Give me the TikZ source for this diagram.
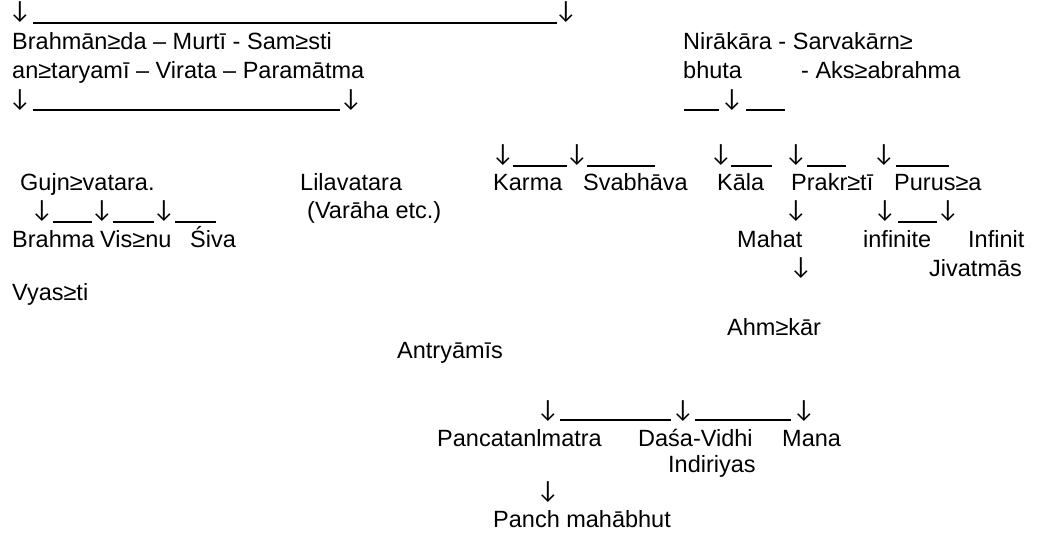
\documentclass[tikz,border=0pt]{standalone}
\usepackage{fontspec}
\setmainfont{Liberation Sans}
\newfontfamily\arrfont{Lato}
\newcommand{\dn}{\makebox[14pt]{\arrfont\fontsize{23.5}{28}\selectfont ↓}}
\begin{document}
\begin{tikzpicture}[x=1pt,y=-1pt,
  txt/.style={anchor=base west, inner sep=0pt, font=\fontsize{23.5}{28}\selectfont},
  arr/.style={anchor=base, inner sep=0pt},
  ul/.style={line width=1.6pt}]
\useasboundingbox[fill=white] (0,0) rectangle (1045,540);
% row 1
\node[arr] (a1) at (20,19) {\dn};
\node[arr] (a2) at (566,19) {\dn};
\draw[ul] ([xshift=6pt,yshift=-4pt]a1.base east) -- ([xshift=-2pt,yshift=-4pt]a2.base west);
% rows 2-3
\node[txt] (t1) at (12,50) {Brahmān≥da – Murtī - Sam≥sti};
\node[txt] (t2) at (12,79) {an≥taryamī – Virata – Paramātma};
\node[txt] (t3) at (683,50) {Nirākāra - Sarvakārn≥};
\node[txt] (t4) at (683,79) {bhuta};
\node[txt] (t5) at (801,79) {- Aks≥abrahma};
% row 4
\node[arr] (a3) at (20,107) {\dn};
\node[arr] (a4) at (351,107) {\dn};
\draw[ul] ([xshift=6pt,yshift=-3pt]a3.base east) -- ([xshift=-4pt,yshift=-3pt]a4.base west);
\node[arr] (a5) at (732,107) {\dn};
\coordinate (c1) at (684,110);
\coordinate (c2) at (785,110);
\draw[ul] (c1) -- ([xshift=-6pt,yshift=-3pt]a5.base west);
\draw[ul] ([xshift=7pt,yshift=-3pt]a5.base east) -- (c2);
% karma arrows row
\node[arr] (k1) at (503,162) {\dn};
\node[arr] (k2) at (577,162) {\dn};
\node[arr] (k3) at (721,162) {\dn};
\node[arr] (k4) at (796,162) {\dn};
\node[arr] (k5) at (884,162) {\dn};
\coordinate (c3) at (655,166);
\coordinate (c4) at (772,166);
\coordinate (c5) at (846,166);
\coordinate (c6) at (949,166);
\draw[ul] ([xshift=3pt,yshift=-4pt]k1.base east) -- ([xshift=-3pt,yshift=-4pt]k2.base west);
\draw[ul] ([xshift=3pt,yshift=-4pt]k2.base east) -- (c3);
\draw[ul] ([xshift=3pt,yshift=-4pt]k3.base east) -- (c4);
\draw[ul] ([xshift=4pt,yshift=-4pt]k4.base east) -- (c5);
\draw[ul] ([xshift=5pt,yshift=-4pt]k5.base east) -- (c6);
% row 7
\node[txt] (g1) at (20,191) {Gujn≥vatara.};
\node[txt] (l1) at (300,191) {Lilavatara};
\node[txt] (n1) at (493,191) {Karma};
\node[txt] (n2) at (583,191) {Svabhāva};
\node[txt] (n3) at (717,191) {Kāla};
\node[txt] (n4) at (791,191) {Prakr≥tī};
\node[txt] (n5) at (894,191) {Purus≥a};
% row 8
\node[arr] (b1) at (42,218) {\dn};
\node[arr] (b2) at (102,218) {\dn};
\node[arr] (b3) at (164,218) {\dn};
\coordinate (c7) at (216,222);
\draw[ul] ([xshift=4pt,yshift=-4pt]b1.base east) -- ([xshift=-3pt,yshift=-4pt]b2.base west);
\draw[ul] ([xshift=4pt,yshift=-4pt]b2.base east) -- ([xshift=-3pt,yshift=-4pt]b3.base west);
\draw[ul] ([xshift=4pt,yshift=-4pt]b3.base east) -- (c7);
\node[txt] (l2) at (307,219) {(Varāha etc.)};
\node[arr] (m1) at (796,218) {\dn};
\node[arr] (p1) at (885,218) {\dn};
\node[arr] (p2) at (948,218) {\dn};
\draw[ul] ([xshift=6pt,yshift=-4pt]p1.base east) -- ([xshift=-4pt,yshift=-4pt]p2.base west);
% row 9
\node[txt] (d1) at (12,248) {Brahma};
\node[txt] (d2) at (100,248) {Vis≥nu};
\node[txt] (d3) at (190,248) {Śiva};
\node[txt] (r1) at (737,248) {Mahat};
\node[txt] (r2) at (863,248) {infinite};
\node[txt] (r3) at (968,248) {Infinit};
% row 10
\node[arr] (m2) at (801,275) {\dn};
\node[txt] (r4) at (929,277) {Jivatmās};
% lower
\node[txt] (v1) at (12,301) {Vyas≥ti};
\node[txt] (h1) at (727,335) {Ahm≥kār};
\node[txt] (h2) at (397,359) {Antryāmīs};
% pancatan arrows
\node[arr] (q1) at (548,417) {\dn};
\node[arr] (q2) at (683,417) {\dn};
\node[arr] (q3) at (804,417) {\dn};
\draw[ul] ([xshift=5pt,yshift=-3pt]q1.base east) -- ([xshift=-5pt,yshift=-3pt]q2.base west);
\draw[ul] ([xshift=5pt,yshift=-3pt]q2.base east) -- ([xshift=-6pt,yshift=-3pt]q3.base west);
\node[txt] (s1) at (437,446) {Pancatanlmatra};
\node[txt] (s2) at (638,446) {Daśa-Vidhi};
\node[txt] (s3) at (782,446) {Mana};
\node[txt] (s4) at (668,472) {Indiriyas};
\node[arr] (q4) at (548,498) {\dn};
\node[txt] (s5) at (493,527) {Panch mahābhut};
\end{tikzpicture}
\end{document}
